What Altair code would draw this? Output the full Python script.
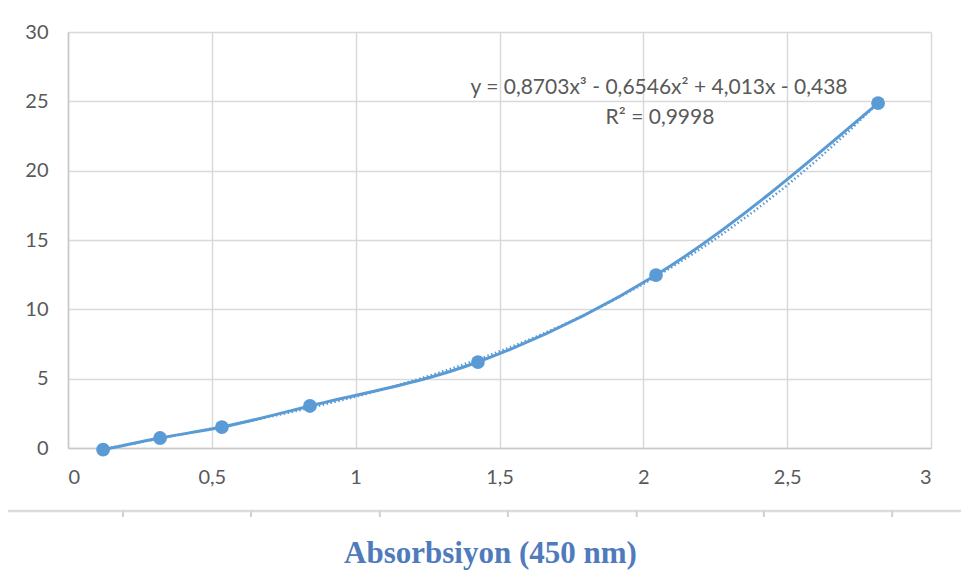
import altair as alt
import pandas as pd

# Measured data points (Absorbance at 450 nm vs concentration)
absorbance = [0.122, 0.320, 0.535, 0.841, 1.425, 2.044, 2.816]
concentration = [-0.12, 0.72, 1.51, 3.03, 6.20, 12.47, 24.87]

x_ticks = [0, 0.5, 1, 1.5, 2, 2.5, 3]
y_ticks = [0, 5, 10, 15, 20, 25, 30]

equation_text = "y = 0,8703x³ - 0,6546x² + 4,013x - 0,438"
r2_text = "R² = 0,9998"
x_title = "Absorbsiyon (450 nm)"

# decorative ticks of the separator line below the chart (in x units)
sep_ticks = [0.191, 0.636, 1.084, 1.529, 1.977, 2.419, 2.865]

df = pd.DataFrame({"x": absorbance, "y": concentration})
ticks_df = pd.DataFrame({"x": sep_ticks})

BLUE = "#5b9bd5"
GREY_TXT = "#595959"
FONT = "Lato"

xs = alt.Scale(domain=[0, 3], nice=False, zero=False)
ys = alt.Scale(domain=[0, 30], nice=False, zero=False)

base = alt.Chart(df)

line = base.mark_line(color=BLUE, strokeWidth=3, interpolate="monotone", clip=False).encode(
    x=alt.X("x:Q", scale=xs,
            axis=alt.Axis(values=x_ticks,
                          labelExpr="replace(format(datum.value, '~g'), '.', ',')",
                          title=x_title, titleX=422, titleY=105, titleBaseline="middle",
                          titleAlign="center", titleAngle=0,
                          titleFont="Liberation Serif", titleFontWeight="bold",
                          titleFontSize=31, titleColor="#4f7bbd",
                          labelPadding=19, tickSize=0)),
    y=alt.Y("y:Q", scale=ys,
            axis=alt.Axis(values=y_ticks, title=None, labelPadding=20, tickSize=0)),
)

trend = base.transform_regression("x", "y", method="poly", order=3).mark_line(
    color=BLUE, strokeWidth=2.5, strokeDash=[1.5, 2.5], clip=False
).encode(x=alt.X("x:Q", scale=xs), y=alt.Y("y:Q", scale=ys))

points = base.mark_circle(color=BLUE, size=190, opacity=1, clip=False).encode(
    x=alt.X("x:Q", scale=xs), y=alt.Y("y:Q", scale=ys)
)

eq = alt.Chart(pd.DataFrame({"t": [equation_text]})).mark_text(
    font=FONT, fontSize=21, color=GREY_TXT, align="center", baseline="middle"
).encode(text="t:N", x=alt.value(591), y=alt.value(56))

r2 = alt.Chart(pd.DataFrame({"t": [r2_text]})).mark_text(
    font=FONT, fontSize=21, color=GREY_TXT, align="center", baseline="middle"
).encode(text="t:N", x=alt.value(592), y=alt.value(86))

sep = alt.Chart(pd.DataFrame({"a": [0]})).mark_rule(color="#dcdcdc", strokeWidth=2.5, clip=False).encode(
    x=alt.value(-60), x2=alt.value(893), y=alt.value(479)
)

sep_t = alt.Chart(ticks_df).mark_rule(color="#d0d0d0", strokeWidth=2, clip=False).encode(
    x=alt.X("x:Q", scale=xs), y=alt.value(479), y2=alt.value(485)
)

chart = alt.layer(sep, sep_t, trend, line, points, eq, r2).properties(
    width=863, height=416,
    autosize=alt.AutoSizeParams(type="none"),
    padding={"left": 68, "top": 32, "right": 30, "bottom": 126},
    background="white",
).configure_view(stroke=None).configure_axis(
    grid=True, gridColor="#d9d9d9", gridWidth=1.5,
    domainColor="#c8c8c8", domainWidth=1.5,
    labelFont=FONT, labelFontSize=20, labelColor=GREY_TXT,
)

chart.save("out.html", embed_options={"renderer": "svg", "actions": False})
